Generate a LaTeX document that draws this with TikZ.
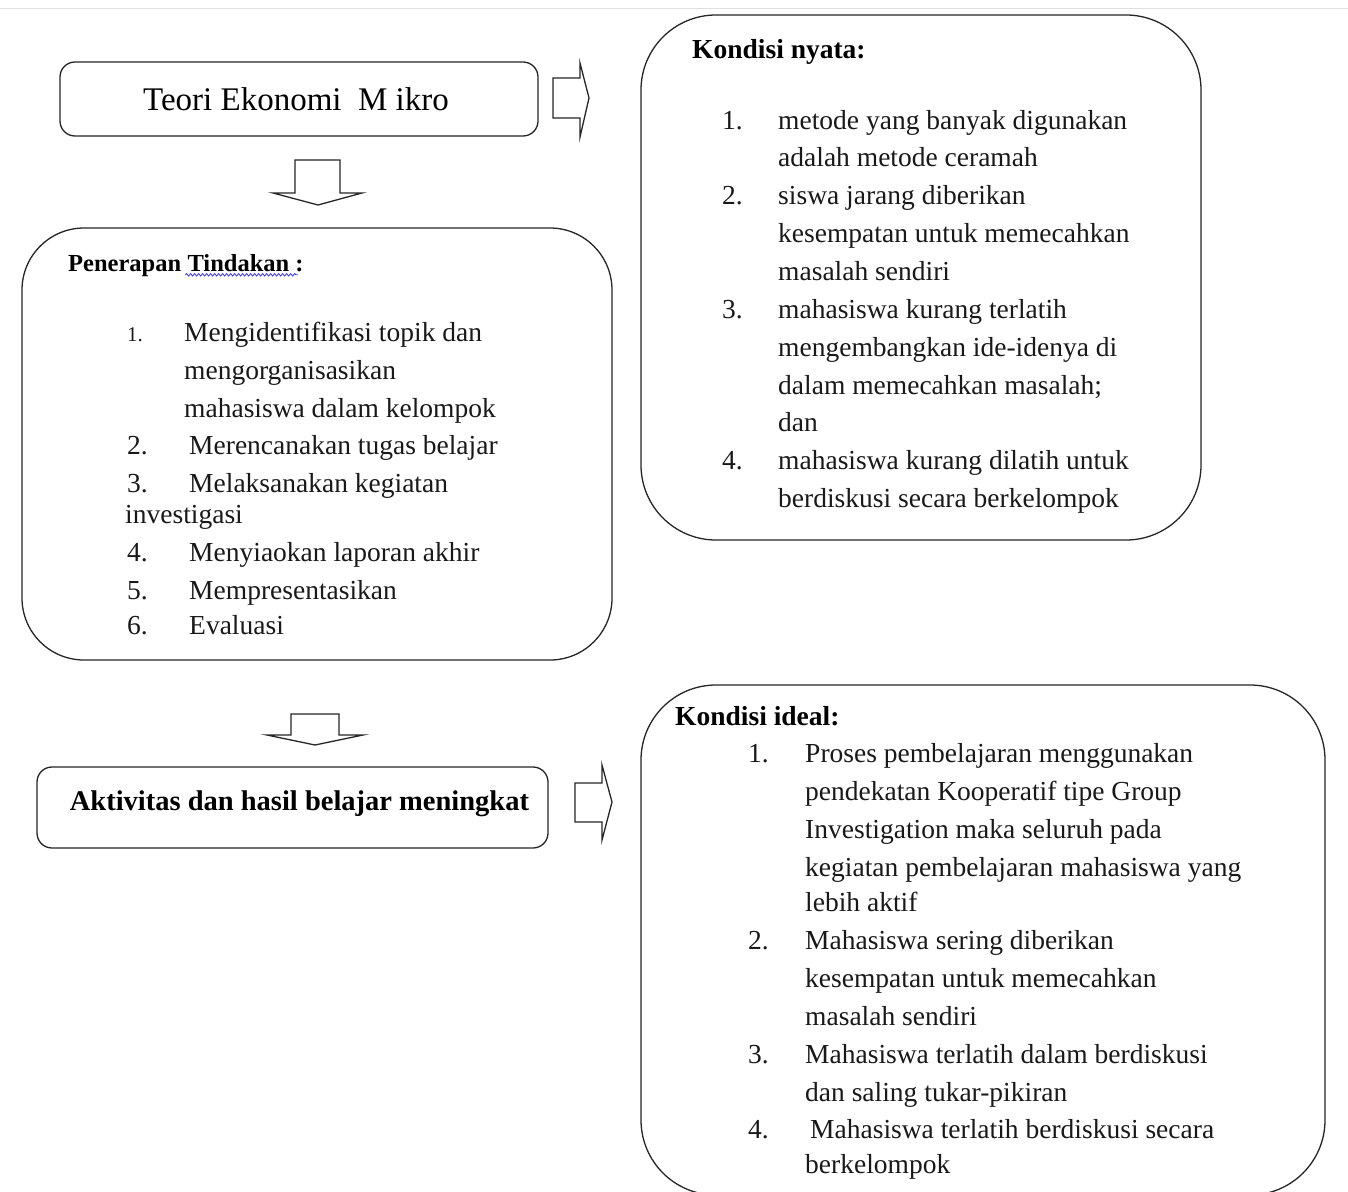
\documentclass[tikz,border=0pt]{standalone}
\usepackage{fontspec}
\setmainfont{Liberation Serif}
\usetikzlibrary{decorations.pathmorphing}
\begin{document}
\begin{tikzpicture}[x=1pt,y=-1pt,
  frame/.style={draw=black!85, line width=1.3pt, inner sep=0pt, outer sep=0pt},
  blockarrow/.style={draw=black!85, line width=1.3pt, fill=white, line join=miter},
  txt/.style={anchor=mid west, inner sep=0pt, yshift=-5pt, font=\fontsize{27.5}{32}\selectfont, text=black!90},
  head/.style={anchor=mid west, inner sep=0pt, yshift=-4pt, font=\fontsize{27.5}{32}\selectfont\bfseries},
]
\useasboundingbox (0,0) rectangle (1348,1191);
\fill[white] (0,0) rectangle (1348,1191);
\draw[black!12, line width=1pt] (0,8) coordinate (tl) -- (1348,8) coordinate (tr);

% boxes
\node[frame, rounded corners=15pt, minimum width=478pt, minimum height=74pt,
      font=\fontsize{33}{38}\selectfont] (teori) at (299,99) {\hspace*{-6pt}\raisebox{-1pt}{Teori Ekonomi\ \ M ikro}};
\node[frame, rounded corners=62pt, minimum width=590pt, minimum height=432pt] (pen) at (317,444) {};
\node[frame, rounded corners=75pt, minimum width=560pt, minimum height=525pt] (nyata) at (921,277.5) {};
\node[frame, rounded corners=15pt, minimum width=511pt, minimum height=81pt,
      font=\fontsize{28.5}{32}\selectfont\bfseries] (akt) at (292.5,807.5) {\hspace*{14pt}\raisebox{13pt}{Aktivitas dan hasil belajar meningkat}};
\node[frame, rounded corners=75pt, minimum width=684pt, minimum height=510pt] (ideal) at (983,940) {};

% block arrows
\draw[blockarrow] (553,78) -- (580,78) -- (580,63) -- (589,98) -- (580,137) -- (580,118) -- (553,118) -- cycle;
\draw[blockarrow] (295,160) -- (340,160) -- (340,193) -- (362,193) -- (318,205) -- (273,193) -- (295,193) -- cycle;
\draw[blockarrow] (291,714) -- (339,714) -- (339,735) -- (363,735) -- (315,745) -- (267,735) -- (291,735) -- cycle;
\draw[blockarrow] (575,783) -- (602,783) -- (602,765) -- (612,802) -- (602,840) -- (602,822) -- (575,822) -- cycle;

% Penerapan
\node[anchor=mid west, inner sep=0pt, yshift=-3pt, font=\fontsize{24.5}{28}\selectfont\bfseries] (penh) at (68,266) {Penerapan};
\node[anchor=mid west, inner sep=0pt, font=\fontsize{24.5}{28}\selectfont\bfseries] (penh2) at ([xshift=6pt]penh.mid east) {Tindakan :};
\draw[blue!80, line width=0.8pt, decorate, decoration={snake, amplitude=1.2pt, segment length=4pt}]
  ([yshift=-3pt,xshift=-2pt]penh2.south west) -- ([yshift=-3pt,xshift=-6pt]penh2.south east);
\node[txt, font=\fontsize{21}{24}\selectfont] (p1n) at (127,334) {1.};
\node[txt] (p1a) at (184,334) {Mengidentifikasi topik dan};
\node[txt] (p1b) at (184,372) {mengorganisasikan};
\node[txt] (p1c) at (184,410) {mahasiswa dalam kelompok};
\node[txt] (p2n) at (127,447) {2.};
\node[txt] (p2a) at (189,447) {Merencanakan tugas belajar};
\node[txt] (p3n) at (127,485) {3.};
\node[txt] (p3a) at (189,485) {Melaksanakan kegiatan};
\node[txt] (p3b) at (125,516) {investigasi};
\node[txt] (p4n) at (127,554) {4.};
\node[txt] (p4a) at (189,554) {Menyiaokan laporan akhir};
\node[txt] (p5n) at (127,592) {5.};
\node[txt] (p5a) at (189,592) {Mempresentasikan};
\node[txt] (p6n) at (127,627) {6.};
\node[txt] (p6a) at (189,627) {Evaluasi};

% Kondisi nyata
\node[head] (nh) at (692,52) {Kondisi nyata:};
\node[txt] (n1n) at (722,122) {1.};
\node[txt] (n1a) at (778,122) {metode yang banyak digunakan};
\node[txt] (n1b) at (778,159) {adalah metode ceramah};
\node[txt] (n2n) at (722,197) {2.};
\node[txt] (n2a) at (778,197) {siswa jarang diberikan};
\node[txt] (n2b) at (778,235) {kesempatan untuk memecahkan};
\node[txt] (n2c) at (778,273) {masalah sendiri};
\node[txt] (n3n) at (722,311) {3.};
\node[txt] (n3a) at (778,311) {mahasiswa kurang terlatih};
\node[txt] (n3b) at (778,349) {mengembangkan ide-idenya di};
\node[txt] (n3c) at (778,387) {dalam memecahkan masalah;};
\node[txt] (n3d) at (778,424) {dan};
\node[txt] (n4n) at (722,462) {4.};
\node[txt] (n4a) at (778,462) {mahasiswa kurang dilatih untuk};
\node[txt] (n4b) at (778,500) {berdiskusi secara berkelompok};

% Kondisi ideal
\node[head] (ih) at (675,719) {Kondisi ideal:};
\node[txt] (i1n) at (748,755) {1.};
\node[txt] (i1a) at (805,755) {Proses pembelajaran menggunakan};
\node[txt] (i1b) at (805,793) {pendekatan Kooperatif tipe Group};
\node[txt] (i1c) at (805,831) {Investigation maka seluruh pada};
\node[txt] (i1d) at (805,869) {kegiatan pembelajaran mahasiswa yang};
\node[txt] (i1e) at (805,904) {lebih aktif};
\node[txt] (i2n) at (748,942) {2.};
\node[txt] (i2a) at (805,942) {Mahasiswa sering diberikan};
\node[txt] (i2b) at (805,980) {kesempatan untuk memecahkan};
\node[txt] (i2c) at (805,1018) {masalah sendiri};
\node[txt] (i3n) at (748,1056) {3.};
\node[txt] (i3a) at (805,1056) {Mahasiswa terlatih dalam berdiskusi};
\node[txt] (i3b) at (805,1094) {dan saling tukar-pikiran};
\node[txt] (i4n) at (748,1131) {4.};
\node[txt] (i4a) at (810,1131) {Mahasiswa terlatih berdiskusi secara};
\node[txt] (i4b) at (805,1166) {berkelompok};
\end{tikzpicture}
\end{document}
